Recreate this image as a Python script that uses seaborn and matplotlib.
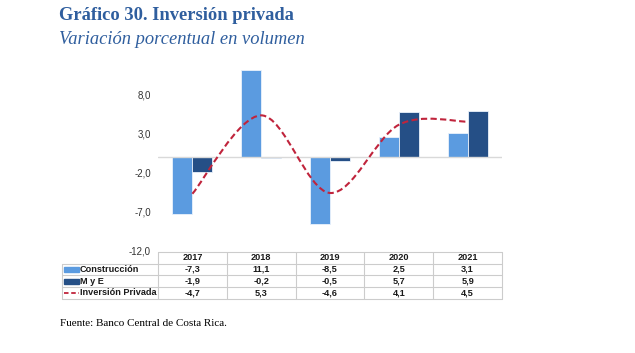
import numpy as np
import pandas as pd
import matplotlib
matplotlib.use("Agg")
import matplotlib.pyplot as plt
import seaborn as sns
from matplotlib.path import Path
from matplotlib.patches import PathPatch, Rectangle
from matplotlib.lines import Line2D

# Data
years = ["2017", "2018", "2019", "2020", "2021"]
construccion = [-7.3, 11.1, -8.5, 2.5, 3.1]
mye = [-1.9, -0.2, -0.5, 5.7, 5.9]
inversion = [-4.7, 5.3, -4.6, 4.1, 4.5]
series_names = ["Construcción", "M y E", "Inversión Privada"]
yticks = [-12, -7, -2, 3, 8]

C_CONS = "#5B9BE0"
C_MYE = "#254F86"
C_LINE = "#C0243C"
C_TITLE = "#2F5E9E"
C_GRID = "#CCCCCC"


def fmt(v):
    return f"{v:.1f}".replace(".", ",")


sns.set_theme(style="white")
plt.rcParams["font.family"] = ["Liberation Sans", "DejaVu Sans"]

fig = plt.figure(figsize=(6.35, 3.53), dpi=100)
ax = fig.add_axes([158 / 635, 1 - 251 / 353, 344 / 635, 196 / 353])

df = pd.DataFrame({
    "year": years * 2,
    "serie": [series_names[0]] * 5 + [series_names[1]] * 5,
    "value": construccion + mye,
})
sns.barplot(data=df, x="year", y="value", hue="serie", order=years,
            hue_order=series_names[:2], palette=[C_CONS, C_MYE], saturation=1,
            width=0.58, edgecolor="#EAF2FB", linewidth=0.6, ax=ax, legend=False)

# smooth dashed line (Catmull-Rom -> cubic Bezier, like Excel smoothing)
pts = np.column_stack([np.arange(len(years)), inversion])
ext = np.vstack([pts[0], pts, pts[-1]])
verts = [tuple(pts[0])]
codes = [Path.MOVETO]
for i in range(len(pts) - 1):
    p0, p1, p2, p3 = ext[i], ext[i + 1], ext[i + 2], ext[i + 3]
    c1 = p1 + (p2 - p0) / 6
    c2 = p2 - (p3 - p1) / 6
    verts += [tuple(c1), tuple(c2), tuple(p2)]
    codes += [Path.CURVE4] * 3
ax.add_patch(PathPatch(Path(verts, codes), fill=False, edgecolor=C_LINE,
                       lw=1.5, linestyle=(0, (3, 1.6)), zorder=4))

ax.axhline(0, color="#D9D9D9", lw=1, zorder=1)
ax.set_xlim(-0.5, 4.5)
ax.set_ylim(-12, 13)
ax.set_yticks(yticks)
ax.set_yticklabels([fmt(v) for v in yticks], fontsize=7, color="#333333")
ax.set_xticks([])
ax.set_xlabel("")
ax.set_ylabel("")
ax.tick_params(axis="y", length=0, pad=5)
for s in ax.spines.values():
    s.set_visible(False)


# data table below the chart (pixel layout -> axes coords)
def px(x, y):
    return ((x - 158) / 344, (251 - y) / 196)


def hline(x0, x1, y):
    (a, b), (c, _) = px(x0, y), px(x1, y)
    ax.add_line(Line2D([a, c], [b, b], transform=ax.transAxes, color=C_GRID,
                       lw=0.8, clip_on=False))


def vline(x, y0, y1):
    (a, b), (_, d) = px(x, y0), px(x, y1)
    ax.add_line(Line2D([a, a], [b, d], transform=ax.transAxes, color=C_GRID,
                       lw=0.8, clip_on=False))


row_y = [252, 263.5, 275, 287, 298.5]
col_w = 344 / 5
hline(158, 502, row_y[0])
for y in row_y[1:]:
    hline(62, 502, y)
vline(62, row_y[1], row_y[-1])
for k in range(6):
    vline(158 + k * col_w, row_y[0], row_y[-1])

txt = dict(transform=ax.transAxes, fontsize=6.6, fontweight="bold",
           color="#1A1A1A", va="center", clip_on=False)
for j, y in enumerate(years):
    xc, yc = px(158 + (j + 0.5) * col_w, (row_y[0] + row_y[1]) / 2)
    ax.text(xc, yc, y, ha="center", **txt)
rows = [construccion, mye, inversion]
for i, (name, vals) in enumerate(zip(series_names, rows)):
    ymid = (row_y[i + 1] + row_y[i + 2]) / 2
    xl, yl = px(80, ymid)
    ax.text(xl, yl, name, ha="left", **txt)
    for j, v in enumerate(vals):
        xc, _ = px(158 + (j + 0.5) * col_w, ymid)
        ax.text(xc, yl, fmt(v), ha="center", **txt)

# legend keys inside the row label cells
for i, col in enumerate([C_CONS, C_MYE]):
    ymid = (row_y[i + 1] + row_y[i + 2]) / 2
    x0, y0 = px(63.5, ymid + 2.5)
    x1, y1 = px(79, ymid - 2.5)
    ax.add_patch(Rectangle((x0, y0), x1 - x0, y1 - y0, transform=ax.transAxes,
                           color=col, clip_on=False))
ymid = (row_y[3] + row_y[4]) / 2
xa, ya = px(64, ymid)
xb, _ = px(79, ymid)
ax.add_line(Line2D([xa, xb], [ya, ya], transform=ax.transAxes, color=C_LINE,
                   lw=1.3, linestyle=(0, (2.5, 1.5)), clip_on=False))

# titles and source
fig.text(59 / 635, 1 - 16 / 353, "Gráfico 30. Inversión privada",
         family=["Liberation Serif"], fontsize=13.3, fontweight="bold",
         color=C_TITLE, va="center")
fig.text(59 / 635, 1 - 39 / 353, "Variación porcentual en volumen",
         family=["Liberation Serif"], fontsize=13.3, style="italic",
         color=C_TITLE, va="center")
fig.text(60 / 635, 1 - 323 / 353, "Fuente: Banco Central de Costa Rica.",
         family=["Liberation Serif"], fontsize=8, color="black", va="center")

fig.savefig("out.png", dpi=100)
